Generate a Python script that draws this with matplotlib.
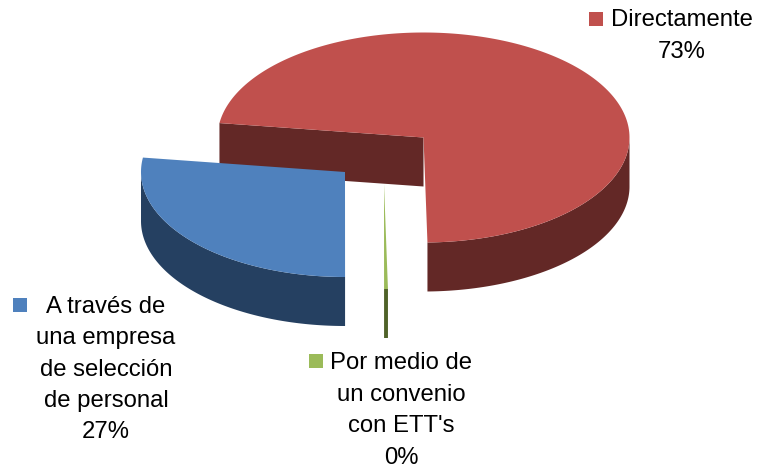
import numpy as np
import matplotlib
matplotlib.use("Agg")
import matplotlib.pyplot as plt
from matplotlib.patches import Polygon, Rectangle

labels = ["Directamente\n73%",
          "A través de\nuna empresa\nde selección\nde personal\n27%",
          "Por medio de\nun convenio\ncon ETT's\n0%"]
shares = [72.5, 27.2, 0.3]

top_colors = ["#C0504D", "#4F81BD", "#9BBB59"]
side_colors = ["#632826", "#254061", "#4F6228"]
centers = [(423.5, 137.5), (345, 172), (384, 184)]
radii = [206, 204, 206]
label_pos = [(682, 36), (106, 369.5), (401.5, 410.5)]
key_pos = [(596, 19), (20, 305), (316, 361)]

ry = 105
depth = 49
start_angle = -88.9


def arc(center, rx, a, b):
    t = np.radians(np.linspace(a, b, 200))
    return np.column_stack([center[0] + rx * np.cos(t), center[1] - ry * np.sin(t)])


fig = plt.figure(figsize=(7.57, 4.66), dpi=100)
ax = fig.add_axes([0, 0, 1, 1])
ax.set_xlim(0, 757)
ax.set_ylim(466, 0)
ax.axis("off")

a = start_angle
for share, center, rx, top, side in zip(shares, centers, radii, top_colors, side_colors):
    b = a + share * 3.6
    edge = arc(center, rx, a, b)
    end_pt = edge[-1]

    # back wall of the cut, only seen on the slice that ends on the left
    if np.cos(np.radians(b)) < -0.5:
        wall = np.array([center, end_pt, end_pt + [0, depth], np.add(center, [0, depth])])
        ax.add_patch(Polygon(wall, closed=True, fc=side, ec="none"))

    # outer rim, only the part that faces the viewer
    lo = max(a, 180) if a > 0 else a
    hi = min(b, 360) if a > 0 else min(b, 0)
    if hi > lo:
        rim = arc(center, rx, lo, hi)
        ax.add_patch(Polygon(np.vstack([rim, rim[::-1] + [0, depth]]), closed=True, fc=side, ec="none"))

    ax.add_patch(Polygon(np.vstack([center, edge]), closed=True, fc=top, ec="none"))
    a = b

for text, pos, key, color in zip(labels, label_pos, key_pos, top_colors):
    ax.text(pos[0], pos[1], text, ha="center", va="center", fontsize=17.2,
            family="Liberation Sans", color="black", linespacing=1.55)
    ax.add_patch(Rectangle((key[0] - 7, key[1] - 7), 14, 14, fc=color, ec="none"))

fig.savefig("out.png", dpi=100)
